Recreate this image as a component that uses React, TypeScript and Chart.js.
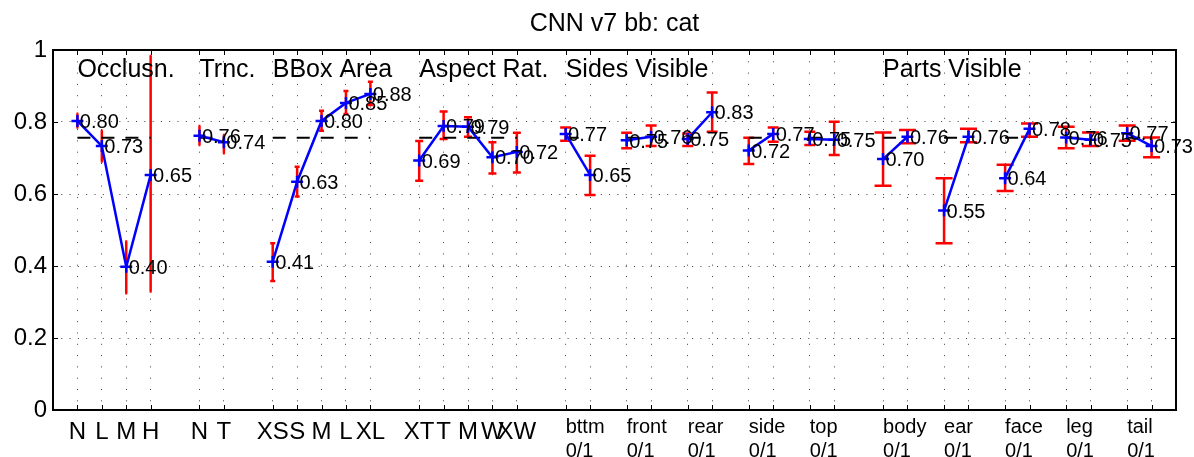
import React, { useEffect, useRef } from 'react';
import { Chart, registerables } from 'chart.js';

Chart.register(...registerables);

const W = 1194;
const H = 457;
const FONT = "'Liberation Sans', Arial, Helvetica, sans-serif";

const chartTitle = 'CNN v7 bb: cat';
const overallMean = 0.756;

// ---- data ----
const groupTitles = ['Occlusn.', 'Trnc.', 'BBox Area', 'Aspect Rat.', 'Sides Visible', 'Parts Visible'];

const occlusionLabels = ['N', 'L', 'M', 'H'];
const occlusionX = [1, 2, 3, 4];
const occlusionAP = [0.803, 0.733, 0.398, 0.653];
const occlusionLo = [0.785, 0.69, 0.324, 0.329];
const occlusionHi = [0.823, 0.776, 0.468, 0.983];

const truncLabels = ['N', 'T'];
const truncX = [6, 7];
const truncAP = [0.762, 0.744];
const truncLo = [0.736, 0.713];
const truncHi = [0.789, 0.764];

const areaLabels = ['XS', 'S', 'M', 'L', 'XL'];
const areaX = [9, 10, 11, 12, 13];
const areaAP = [0.412, 0.634, 0.803, 0.853, 0.878];
const areaLo = [0.358, 0.593, 0.776, 0.822, 0.847];
const areaHi = [0.463, 0.676, 0.831, 0.886, 0.912];

const aspectLabels = ['XT', 'T', 'M', 'W', 'XW'];
const aspectX = [15, 16, 17, 18, 19];
const aspectAP = [0.693, 0.789, 0.787, 0.702, 0.717];
const aspectLo = [0.637, 0.753, 0.759, 0.657, 0.66];
const aspectHi = [0.747, 0.829, 0.813, 0.744, 0.77];

const binLabel = '0/1';

const sideNames = ['bttm', 'front', 'rear', 'side', 'top'];
const sideX = [21, 23.5, 26, 28.5, 31];
const sideAP0 = [0.767, 0.749, 0.753, 0.721, 0.753];
const sideAP1 = [0.653, 0.759, 0.827, 0.767, 0.751];
const sideLo0 = [0.748, 0.727, 0.733, 0.683, 0.736];
const sideHi0 = [0.785, 0.77, 0.768, 0.756, 0.773];
const sideLo1 = [0.597, 0.733, 0.773, 0.745, 0.708];
const sideHi1 = [0.706, 0.79, 0.882, 0.785, 0.801];

const partNames = ['body', 'ear', 'face', 'leg', 'tail'];
const partX = [34, 36.5, 39, 41.5, 44];
const partAP0 = [0.697, 0.554, 0.644, 0.757, 0.769];
const partAP1 = [0.759, 0.759, 0.781, 0.751, 0.733];
const partLo0 = [0.623, 0.463, 0.608, 0.727, 0.748];
const partHi0 = [0.771, 0.644, 0.681, 0.787, 0.79];
const partLo1 = [0.741, 0.744, 0.759, 0.733, 0.702];
const partHi1 = [0.778, 0.781, 0.796, 0.771, 0.757];

const yTickValues = [0, 0.2, 0.4, 0.6, 0.8, 1];
const yTickLabels = ['0', '0.2', '0.4', '0.6', '0.8', '1'];
const xMin = 0;
const xMax = 46;

// ---- derived structures ----
type Series = { xs: number[]; ap: number[]; lo: number[]; hi: number[]; cap: number };

const series: Series[] = [
  { xs: occlusionX, ap: occlusionAP, lo: occlusionLo, hi: occlusionHi, cap: 1 },
  { xs: truncX, ap: truncAP, lo: truncLo, hi: truncHi, cap: 1 },
  { xs: areaX, ap: areaAP, lo: areaLo, hi: areaHi, cap: 2.5 },
  { xs: aspectX, ap: aspectAP, lo: aspectLo, hi: aspectHi, cap: 4 },
  ...sideNames.map((_, i) => ({
    xs: [sideX[i], sideX[i] + 1],
    ap: [sideAP0[i], sideAP1[i]],
    lo: [sideLo0[i], sideLo1[i]],
    hi: [sideHi0[i], sideHi1[i]],
    cap: 5.5,
  })),
  ...partNames.map((_, i) => ({
    xs: [partX[i], partX[i] + 1],
    ap: [partAP0[i], partAP1[i]],
    lo: [partLo0[i], partLo1[i]],
    hi: [partHi0[i], partHi1[i]],
    cap: 8.5,
  })),
];

const letterGroups = [
  { xs: occlusionX, labels: occlusionLabels },
  { xs: truncX, labels: truncLabels },
  { xs: areaX, labels: areaLabels },
  { xs: aspectX, labels: aspectLabels },
];

const groupStarts = [occlusionX[0], truncX[0], areaX[0], aspectX[0], sideX[0], partX[0]];

const pairGroups = [
  ...sideNames.map((n, i) => ({ name: n, x: sideX[i] })),
  ...partNames.map((n, i) => ({ name: n, x: partX[i] })),
];

const gridX: number[] = series.flatMap((s) => s.xs);

const meanDatasets = series.map((s) => ({
  type: 'line' as const,
  data: [
    { x: Math.min(...s.xs), y: overallMean },
    { x: Math.max(...s.xs), y: overallMean },
  ],
  borderColor: '#000000',
  borderWidth: 2,
  borderDash: [13, 11],
  pointRadius: 0,
  fill: false,
  tension: 0,
  order: 2,
}));

const apDatasets = series.map((s) => ({
  type: 'line' as const,
  data: s.xs.map((x, i) => ({ x, y: s.ap[i] })),
  borderColor: '#0000ff',
  borderWidth: 2.5,
  pointStyle: 'cross' as const,
  pointRadius: 6,
  pointHoverRadius: 6,
  pointBorderColor: '#0000ff',
  pointBackgroundColor: '#0000ff',
  pointBorderWidth: 2.5,
  fill: false,
  tension: 0,
  order: 1,
}));

const decorPlugin = {
  id: 'decor',
  beforeDatasetsDraw(chart: any) {
    const { ctx, scales } = chart;
    const xs = scales.x;
    const ys = scales.y;
    ctx.save();
    ctx.strokeStyle = '#ff0000';
    ctx.lineWidth = 2.5;
    ctx.lineCap = 'butt';
    for (const s of series) {
      s.xs.forEach((xv, i) => {
        const px = xs.getPixelForValue(xv);
        const pl = ys.getPixelForValue(s.lo[i]);
        const ph = ys.getPixelForValue(s.hi[i]);
        ctx.beginPath();
        ctx.moveTo(px, pl);
        ctx.lineTo(px, ph);
        ctx.moveTo(px - s.cap, pl);
        ctx.lineTo(px + s.cap, pl);
        ctx.moveTo(px - s.cap, ph);
        ctx.lineTo(px + s.cap, ph);
        ctx.stroke();
      });
    }
    ctx.restore();
  },
  afterDatasetsDraw(chart: any) {
    const { ctx, scales } = chart;
    const xs = scales.x;
    const ys = scales.y;
    ctx.save();
    ctx.fillStyle = '#000';
    ctx.font = `20px ${FONT}`;
    ctx.textAlign = 'left';
    ctx.textBaseline = 'alphabetic';
    for (const s of series) {
      s.xs.forEach((xv, i) => {
        const px = xs.getPixelForValue(xv + 0.1);
        const py = ys.getPixelForValue(s.ap[i]);
        ctx.fillText(s.ap[i].toFixed(2), px, py + 7.2);
      });
    }
    ctx.restore();
  },
  afterDraw(chart: any) {
    const { ctx, chartArea, scales } = chart;
    const xs = scales.x;
    const ys = scales.y;
    const { left, right, top, bottom } = chartArea;
    ctx.save();
    // inner ticks
    ctx.strokeStyle = '#000';
    ctx.lineWidth = 1;
    ctx.beginPath();
    for (const v of gridX) {
      const px = Math.round(xs.getPixelForValue(v)) + 0.5;
      ctx.moveTo(px, bottom);
      ctx.lineTo(px, bottom - 5);
      ctx.moveTo(px, top);
      ctx.lineTo(px, top + 5);
    }
    for (const v of yTickValues) {
      const py = Math.round(ys.getPixelForValue(v)) + 0.5;
      ctx.moveTo(left, py);
      ctx.lineTo(left + 5, py);
      ctx.moveTo(right, py);
      ctx.lineTo(right - 5, py);
    }
    ctx.stroke();
    // box
    ctx.lineWidth = 2;
    ctx.strokeRect(left, top, right - left, bottom - top);

    ctx.fillStyle = '#000';
    // title
    ctx.font = `25px ${FONT}`;
    ctx.textAlign = 'center';
    ctx.textBaseline = 'alphabetic';
    ctx.fillText(chartTitle, (left + right) / 2, 30.5);

    // group titles
    ctx.textAlign = 'left';
    groupTitles.forEach((t, i) => {
      const px = xs.getPixelForValue(groupStarts[i]);
      ctx.fillText(t, px, ys.getPixelForValue(0.95) + 9);
    });

    // letter tick labels
    ctx.font = `24px ${FONT}`;
    ctx.textAlign = 'center';
    for (const g of letterGroups) {
      g.xs.forEach((xv, i) => {
        ctx.fillText(g.labels[i], xs.getPixelForValue(xv), bottom + 29);
      });
    }

    // pair labels
    ctx.font = `20px ${FONT}`;
    ctx.textAlign = 'left';
    for (const p of pairGroups) {
      const px = xs.getPixelForValue(p.x);
      ctx.fillText(p.name, px, bottom + 23);
      ctx.fillText(binLabel, px, bottom + 46.5);
    }
    ctx.restore();
  },
};

export default function App() {
  const ref = useRef<HTMLCanvasElement>(null);
  useEffect(() => {
    document.body.style.margin = '0';
    const canvas = ref.current as HTMLCanvasElement;
    const chart = new Chart(canvas, {
      type: 'line',
      data: { datasets: [...meanDatasets, ...apDatasets] as any },
      options: {
        animation: false,
        responsive: false,
        maintainAspectRatio: false,
        events: [],
        layout: { padding: { top: 50, right: 18, left: 0, bottom: 0 } },
        plugins: {
          legend: { display: false },
          title: { display: false },
          tooltip: { enabled: false },
        },
        scales: {
          x: {
            type: 'linear',
            min: xMin,
            max: xMax,
            afterBuildTicks: (s: any) => {
              s.ticks = gridX.map((v) => ({ value: v }));
            },
            afterFit: (s: any) => {
              s.height = H - 410;
            },
            ticks: { display: false },
            grid: { color: 'rgba(0,0,0,0.75)', lineWidth: 1, drawTicks: false },
            border: { display: false, dash: [1, 10.3] },
          },
          y: {
            type: 'linear',
            min: 0,
            max: 1,
            afterBuildTicks: (s: any) => {
              s.ticks = yTickValues.map((v) => ({ value: v }));
            },
            afterFit: (s: any) => {
              s.width = 53;
            },
            ticks: {
              color: '#000',
              padding: 6,
              font: { family: FONT, size: 24 },
              callback: (v: any) => {
                const i = yTickValues.findIndex((t) => Math.abs(t - Number(v)) < 1e-6);
                return i >= 0 ? yTickLabels[i] : '';
              },
            },
            grid: { color: 'rgba(0,0,0,0.75)', lineWidth: 1, drawTicks: false },
            border: { display: false, dash: [1, 7.3] },
          },
        },
      } as any,
      plugins: [decorPlugin],
    });
    return () => chart.destroy();
  }, []);
  return (
    <div style={{ width: W, height: H }}>
      <canvas ref={ref} width={W} height={H} style={{ display: 'block', width: W, height: H }} />
    </div>
  );
}
